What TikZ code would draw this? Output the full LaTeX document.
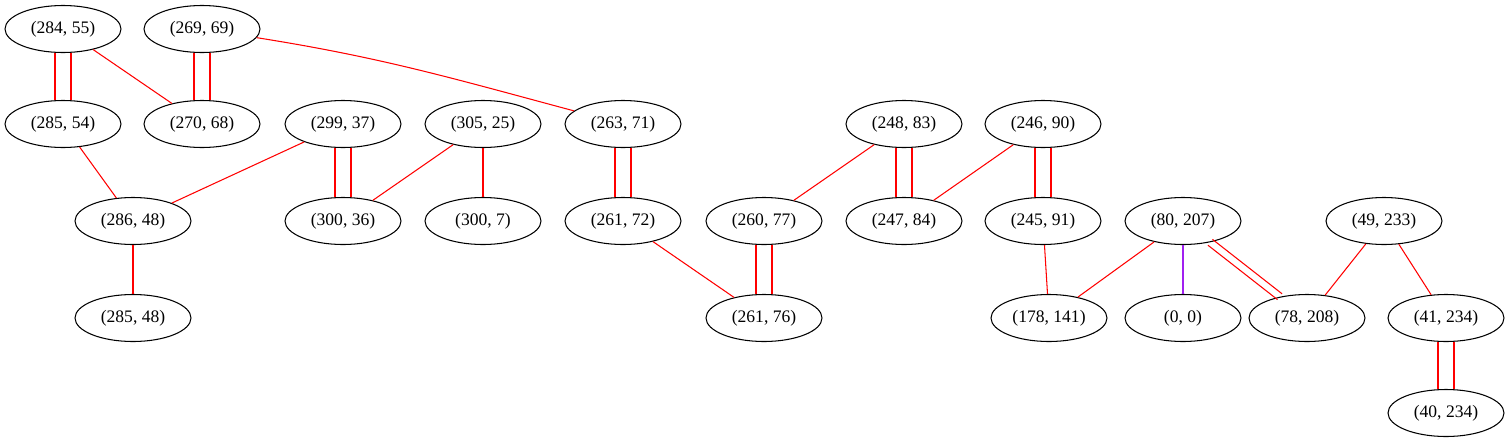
\documentclass[tikz,border=0pt]{standalone}
\usepackage{fontspec}
\setmainfont{Liberation Serif}
\usetikzlibrary{shapes.geometric}
\definecolor{edgered}{RGB}{255,0,0}
\definecolor{edgepurple}{RGB}{160,32,240}

% two parallel edges, shifted by (#3,#4) either way
\newcommand{\twinedge}[4]{%
  \draw[edge, transform canvas={shift={(#3,#4)}}] (#1) -- (#2);
  \draw[edge, transform canvas={shift={(-#3,-#4)}}] (#1) -- (#2);}

\begin{document}
\begin{tikzpicture}[
  x=0.02cm, y=-0.02cm,
  vertex/.style={draw=black, ellipse, line width=0.6pt,
                 minimum width=2.32cm, minimum height=0.94cm,
                 inner sep=0pt, font=\fontsize{10}{12}\selectfont},
  edge/.style={draw=edgered, line width=0.6pt},
  violetedge/.style={draw=edgepurple, line width=0.6pt}
]
\useasboundingbox (0,0) rectangle (1509,443);

\node[vertex] (p284x55)  at (63, 29)    {(284, 55)};
\node[vertex] (p269x69)  at (202, 29)   {(269, 69)};
\node[vertex] (p285x54)  at (63, 124)   {(285, 54)};
\node[vertex] (p270x68)  at (202, 124)  {(270, 68)};
\node[vertex] (p299x37)  at (343, 124)  {(299, 37)};
\node[vertex] (p305x25)  at (483, 124)  {(305, 25)};
\node[vertex] (p263x71)  at (623, 124)  {(263, 71)};
\node[vertex] (p248x83)  at (904, 124)  {(248, 83)};
\node[vertex] (p246x90)  at (1043, 124) {(246, 90)};
\node[vertex] (p286x48)  at (133, 221)  {(286, 48)};
\node[vertex] (p300x36)  at (343, 221)  {(300, 36)};
\node[vertex] (p300x7)   at (483, 221)  {(300, 7)};
\node[vertex] (p261x72)  at (623, 221)  {(261, 72)};
\node[vertex] (p260x77)  at (764, 221)  {(260, 77)};
\node[vertex] (p247x84)  at (904, 221)  {(247, 84)};
\node[vertex] (p245x91)  at (1043, 221) {(245, 91)};
\node[vertex] (p80x207)  at (1183, 221) {(80, 207)};
\node[vertex] (p49x233)  at (1384, 221) {(49, 233)};
\node[vertex] (p285x48)  at (133, 318)  {(285, 48)};
\node[vertex] (p261x76)  at (764, 318)  {(261, 76)};
\node[vertex] (p178x141) at (1049, 318) {(178, 141)};
\node[vertex] (p0x0)     at (1183, 318) {(0, 0)};
\node[vertex] (p78x208)  at (1307, 318) {(78, 208)};
\node[vertex] (p41x234)  at (1446, 318) {(41, 234)};
\node[vertex] (p40x234)  at (1446, 413) {(40, 234)};

\twinedge{p284x55}{p285x54}{0.16cm}{0cm}
\twinedge{p269x69}{p270x68}{0.16cm}{0cm}
\twinedge{p299x37}{p300x36}{0.16cm}{0cm}
\twinedge{p263x71}{p261x72}{0.16cm}{0cm}
\twinedge{p260x77}{p261x76}{0.16cm}{0cm}
\twinedge{p248x83}{p247x84}{0.16cm}{0cm}
\twinedge{p246x90}{p245x91}{0.16cm}{0cm}
\twinedge{p41x234}{p40x234}{0.16cm}{0cm}
\twinedge{p80x207}{p78x208}{0.046cm}{0.058cm}

\draw[edge]       (p284x55) -- (p270x68);
\draw[edge]       (p269x69) to[out=-9, in=165] (p263x71);
\draw[edge]       (p285x54) -- (p286x48);
\draw[edge]       (p299x37) -- (p286x48);
\draw[edge]       (p286x48) -- (p285x48);
\draw[edge]       (p305x25) -- (p300x36);
\draw[edge]       (p305x25) -- (p300x7);
\draw[edge]       (p261x72) -- (p261x76);
\draw[edge]       (p248x83) -- (p260x77);
\draw[edge]       (p246x90) -- (p247x84);
\draw[edge]       (p245x91) -- (p178x141);
\draw[edge]       (p80x207) -- (p178x141);
\draw[violetedge] (p80x207) -- (p0x0);
\draw[edge]       (p49x233) -- (p78x208);
\draw[edge]       (p49x233) -- (p41x234);

\end{tikzpicture}
\end{document}
